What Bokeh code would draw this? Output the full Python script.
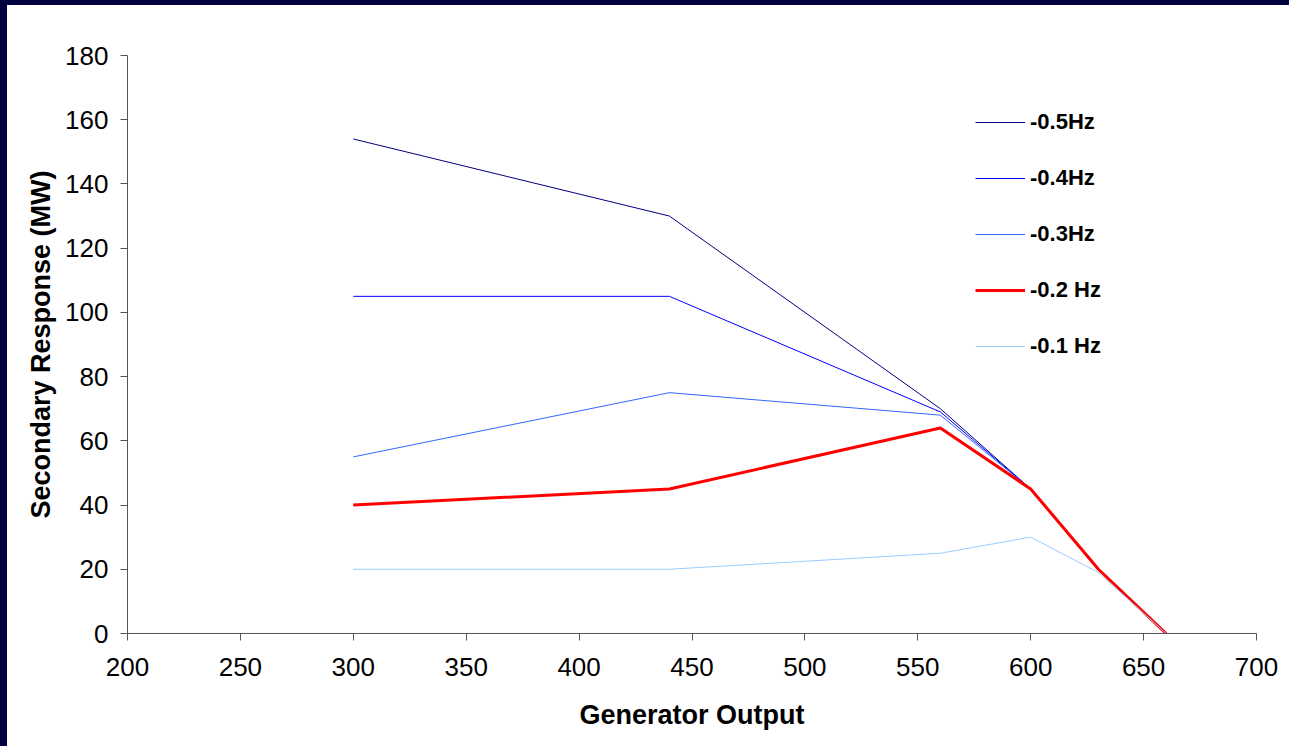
from bokeh.plotting import figure
from bokeh.models import Legend, LegendItem, Range1d, FixedTicker, GlobalInlineStyleSheet
from bokeh.embed import file_html
from bokeh.resources import INLINE

# Data
gen_output = [300, 440, 560, 600, 630, 660]
hz_05 = [154, 130, 70, 45, 20, 0]
hz_04 = [105, 105, 69, 45, 20, 0]
hz_03 = [55, 75, 68, 45, 20, 0]
hz_02 = [40, 45, 64, 45, 20, 0]
hz_01 = [20, 20, 25, 30, 19, 0]

series_labels = ["-0.5Hz", "-0.4Hz", "-0.3Hz", "-0.2 Hz", "-0.1 Hz"]
series_values = [hz_05, hz_04, hz_03, hz_02, hz_01]
series_colors = ["#000080", "#0000FF", "#3366FF", "#FF0000", "#99CCFF"]
series_widths = [1, 1, 1, 3, 1]

x_ticks = [200, 250, 300, 350, 400, 450, 500, 550, 600, 650, 700]
y_ticks = [0, 20, 40, 60, 80, 100, 120, 140, 160, 180]

FONT = "Liberation Sans"

p = figure(width=1289, height=746, output_backend="svg", toolbar_location=None,
           x_range=Range1d(200, 700), y_range=Range1d(0, 180),
           min_border_left=127, min_border_right=33, min_border_top=55, min_border_bottom=113)
p.background_fill_color = "white"
p.border_fill_color = "white"
p.outline_line_color = None
p.xgrid.grid_line_color = None
p.ygrid.grid_line_color = None

for ax in (p.xaxis[0], p.yaxis[0]):
    ax.axis_line_color = "#555555"
    ax.major_tick_line_color = "#555555"
    ax.minor_tick_line_color = None
    ax.major_tick_in = 0
    ax.major_tick_out = 7
    ax.major_label_text_font = FONT
    ax.major_label_text_font_size = "26px"
    ax.major_label_text_color = "black"
    ax.axis_label_text_font = FONT
    ax.axis_label_text_font_size = "27px"
    ax.axis_label_text_font_style = "bold"
    ax.axis_label_text_color = "black"

p.xaxis.ticker = FixedTicker(ticks=x_ticks)
p.yaxis.ticker = FixedTicker(ticks=y_ticks)
p.xaxis.axis_label = "Generator Output"
p.yaxis.axis_label = "Secondary Response (MW)"
p.xaxis.major_label_standoff = 17
p.yaxis.major_label_standoff = 12
p.xaxis.axis_label_standoff = 21
p.yaxis.axis_label_standoff = 6

items = []
for lab, vals, col, w in zip(series_labels, series_values, series_colors, series_widths):
    r = p.line(gen_output, vals, line_color=col, line_width=w)
    items.append(LegendItem(label=lab, renderers=[r]))

legend = Legend(items=items, location=(848, 274))
legend.border_line_color = None
legend.background_fill_alpha = 0
legend.padding = 0
legend.margin = 0
legend.spacing = 30
legend.glyph_width = 50
legend.glyph_height = 20
legend.label_height = 20
legend.label_standoff = 5
legend.label_text_font = FONT
legend.label_text_font_size = "22px"
legend.label_text_font_style = "bold"
legend.label_text_color = "black"
p.add_layout(legend)

p.stylesheets = [GlobalInlineStyleSheet(css="""
html, body { background: #ffffff; overflow: hidden; }
body::before { content: ''; position: fixed; left: 0; top: 0; width: 1289px; height: 5px; background: #000040; z-index: 10; }
body::after { content: ''; position: fixed; left: 0; top: 0; height: 746px; width: 7px; background: #000040; z-index: 10; }
""")]

open("out.html", "w").write(file_html(p, INLINE))
